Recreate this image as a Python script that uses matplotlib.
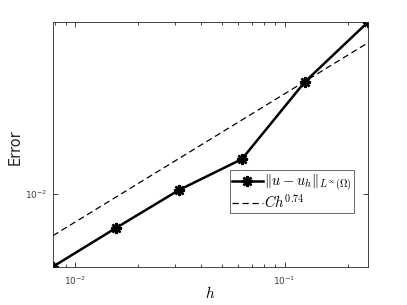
import matplotlib
matplotlib.use("Agg")
import matplotlib.pyplot as plt
import numpy as np
from matplotlib.ticker import LogLocator, NullLocator, NullFormatter

plt.rcParams['mathtext.fontset'] = 'cm'

# mesh sizes and measured errors
h = [1/128, 1/64, 1/32, 1/16, 1/8, 1/4]
err = [0.00379, 0.00634, 0.0105, 0.01585, 0.0443, 0.098]

# reference rate C h^p
rate = 0.74
C = 0.2075

fig = plt.figure(figsize=(4.07, 3.05), dpi=100)
ax = fig.add_axes([0.130, 0.1256, 0.774, 0.802])

ref = [C * x**rate for x in h]
ax.loglog(h, err, '-', color='k', lw=1.8, marker=(8, 2, 0), ms=8, mew=1.8,
          label=r'$\|u-u_h\|_{L^\infty(\Omega)}$')
ax.loglog(h, ref, '--', color='k', lw=0.9, dashes=(5, 3),
          label=r'$Ch^{0.74}$')

ax.set_xlim(h[0], h[-1])
ax.set_ylim(min(err), max(err))

ax.xaxis.set_major_locator(LogLocator(base=10, numticks=10))
ax.xaxis.set_minor_locator(LogLocator(base=10, subs=np.arange(2, 10), numticks=20))
ax.xaxis.set_minor_formatter(NullFormatter())
ax.yaxis.set_major_locator(LogLocator(base=10, numticks=10))
ax.yaxis.set_minor_locator(NullLocator())

ax.tick_params(which='both', direction='in', top=True, right=True,
               colors='#262626', labelsize=6.5, width=0.6)
ax.tick_params(axis='x', pad=6)
ax.tick_params(axis='y', pad=4)
ax.tick_params(which='major', length=3.5)
ax.tick_params(which='minor', length=2)
for s in ax.spines.values():
    s.set_color('#262626')
    s.set_linewidth(0.6)
ax.tick_params(labelcolor='#404040')

ax.set_xlabel(r'$h$', fontsize=11)
ax.xaxis.set_label_coords(0.5, -0.075)
ax.set_ylabel('Error', fontsize=10.5, color='#262626')
ax.yaxis.set_label_coords(-0.095, 0.49)

leg = ax.legend(loc='lower right', bbox_to_anchor=(0.955, 0.218), fontsize=10.5,
                frameon=True, fancybox=False, handlelength=2.1,
                borderpad=0.15, labelspacing=0.0, handletextpad=0.1,
                borderaxespad=0)
leg.get_frame().set_edgecolor('#262626')
leg.get_frame().set_linewidth(0.6)

fig.savefig('out.png', dpi=100)
